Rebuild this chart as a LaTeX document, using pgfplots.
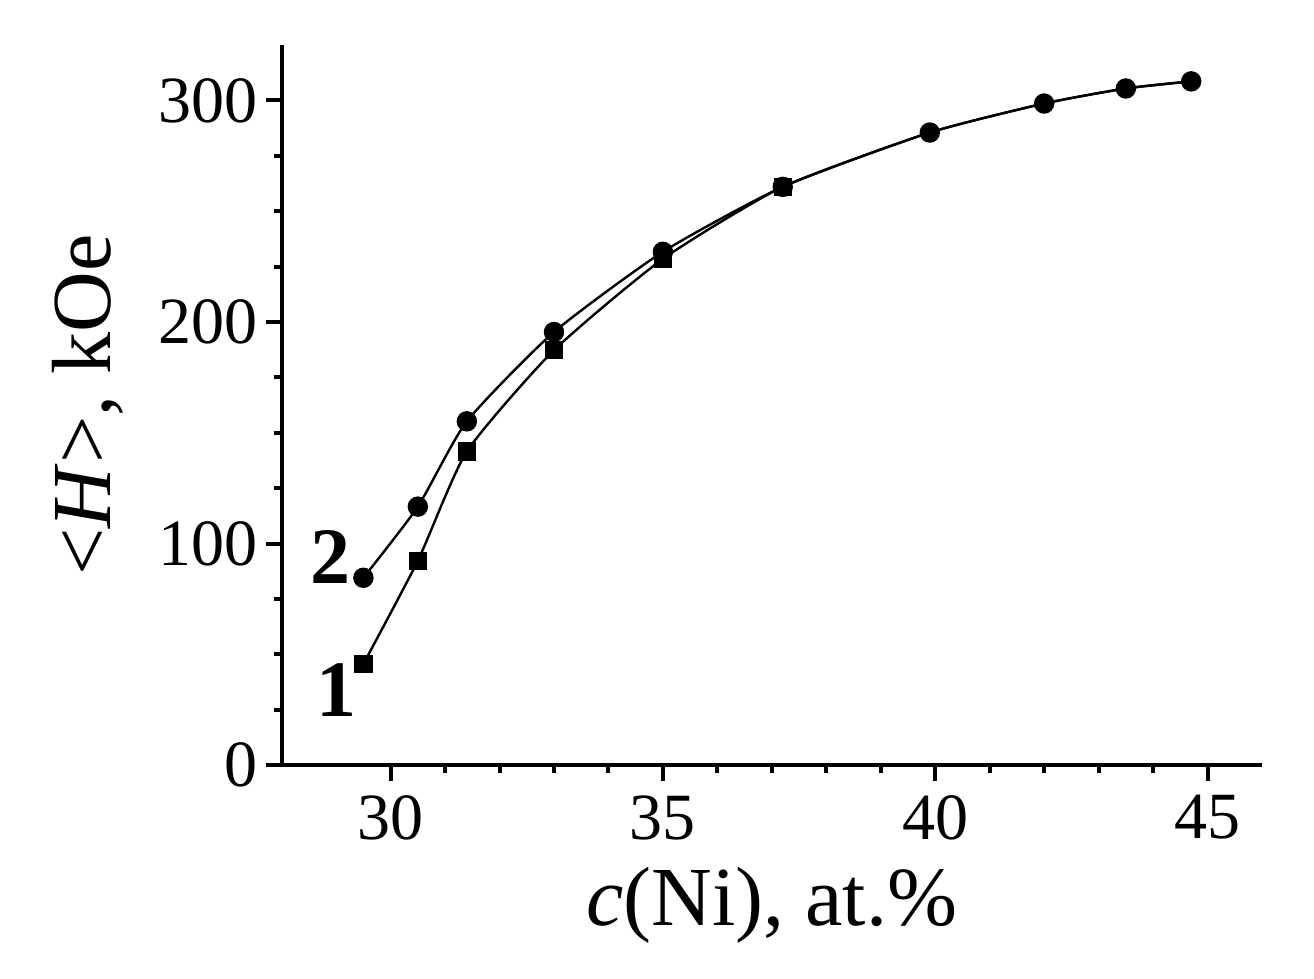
\documentclass[border=0pt]{standalone}
\usepackage{fontspec}
\setmainfont{Liberation Serif}
\usepackage{pgfplots}
\pgfplotsset{compat=1.18}
\begin{document}
\begin{tikzpicture}
\begin{axis}[
  scale only axis,
  width=245pt, height=180pt,
  xmin=28, xmax=46, ymin=0, ymax=325,
  axis x line=bottom, axis y line=left,
  axis line style={-, line width=1pt},
  tick align=outside,
  major tick length=4pt, minor tick length=2pt,
  every tick/.style={line width=1pt, black},
  xtick={30,35,40,45}, minor x tick num=4,
  ytick={0,100,200,300}, minor y tick num=3,
  /pgf/number format/assume math mode=true,
  tick label style={font=\fontsize{16.5}{18}\selectfont},
  yticklabel style={xshift=1.5pt},
  label style={font=\fontsize{21}{24}\selectfont},
  ylabel style={yshift=2pt},
  xlabel={\textit{c}(Ni), at.\%},
  ylabel={\textless\textit{H}\textgreater, kOe},
  clip=false,
]
\addplot[black, line width=0.6pt, smooth, tension=0.35, mark=square*, mark size=2pt, mark indices={1,2,3,4,5,6}]
coordinates {(29.5,45.7) (30.5,92.3) (31.4,141.6) (33.0,187.3) (35.0,228.5) (37.2,261) (39.9,285.5) (42.0,298.6) (43.5,305.4) (44.7,308.6)};
\addplot[black, line width=0.6pt, smooth, tension=0.35, mark=*, mark size=2.25pt]
coordinates {(29.5,84.6) (30.5,116.7) (31.4,155.2) (33.0,195.5) (35.0,231.7) (37.2,261) (39.9,285.5) (42.0,298.6) (43.5,305.4) (44.7,308.6)};
\node[font=\fontsize{20}{22}\selectfont\bfseries] at (axis cs:28.9,94) {2};
\node[font=\fontsize{20}{22}\selectfont\bfseries] at (axis cs:29.0,34) {1};
\end{axis}
\pgfresetboundingbox
\path[use as bounding box] ([shift={(-70.4pt,-53.25pt)}]current axis.south west) rectangle ([shift={(13pt,11.25pt)}]current axis.north east);
\end{tikzpicture}
\end{document}
